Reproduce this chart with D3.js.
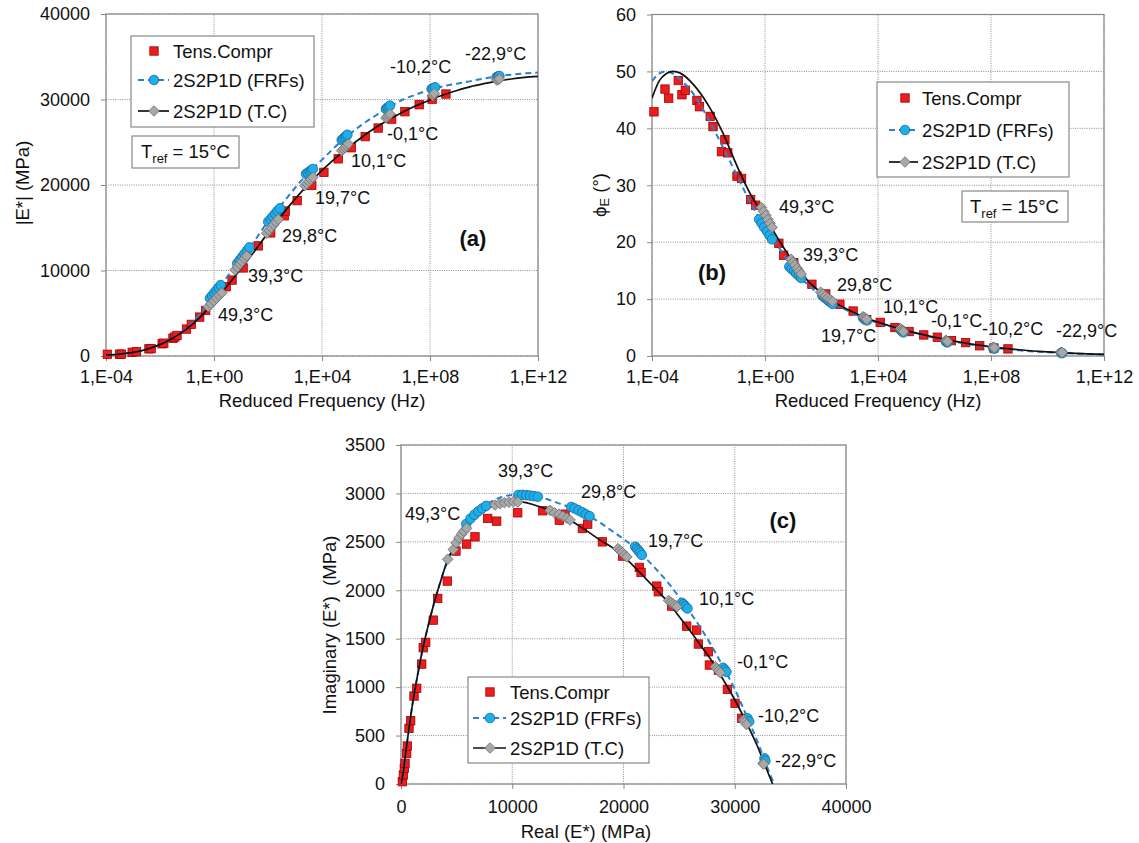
<!DOCTYPE html>
<html><head><meta charset="utf-8">
<script src="https://cdn.jsdelivr.net/npm/d3@7"></script>
<style>
body{margin:0;background:#fff;}
text{font-family:"Liberation Sans",Arial,Helvetica,sans-serif;fill:#111;}
</style></head><body>
<svg id="chart" width="1139" height="843"></svg>
<script>
// ---------------- DATA ----------------
const freqTicks = [1e-4, 1, 1e4, 1e8, 1e12];
const modulusTicks = [0, 10000, 20000, 30000, 40000];
const phaseTicks = [0, 10, 20, 30, 40, 50, 60];
const imagTicks = [0, 500, 1000, 1500, 2000, 2500, 3000, 3500];
const realTicks = [0, 10000, 20000, 30000, 40000];
const temps = ["49,3°C", "39,3°C", "29,8°C", "19,7°C", "10,1°C", "-0,1°C", "-10,2°C", "-22,9°C"];
const seriesNames = ["Tens.Compr", "2S2P1D (FRFs)", "2S2P1D (T.C)"];
const panelNames = ["(a)", "(b)", "(c)"];

// Panel (a): [log10 f, |E*| MPa]
const aTensCompr = [[-3.95,200],[-3.5,210],[-3.43,220],[-3.03,430],[-2.87,500],[-2.41,840],[-2.33,860],[-1.92,1430],[-1.86,1500],[-1.52,2080],[-1.45,2220],[-1.37,2400],[-1.02,3150],[-0.84,3700],[-0.53,4550],[-0.31,5330],[0.45,8100],[0.67,8880],[1.08,10300],[1.64,12880],[2.1,14400],[2.6,16400],[2.64,16950],[3.08,18170],[3.62,19950],[4.07,21480],[4.6,23060],[5.08,24360],[5.6,25660],[6.08,26660],[6.58,27710],[7.07,28570],[7.6,29390],[8.08,30040],[8.59,30640]];
const aTCCurve = [[-4,130],[-3.5,230],[-3,420],[-2.5,780],[-2,1330],[-1.5,2130],[-1,3200],[-0.5,4580],[0,6300],[0.5,8250],[1,10200],[1.5,12250],[2,14400],[2.5,16450],[3,18350],[3.5,20100],[4,21700],[4.5,23150],[5,24450],[5.5,25650],[6,26750],[6.5,27700],[7,28550],[7.5,29300],[8,29950],[8.5,30550],[9,31050],[9.5,31500],[10,31850],[10.5,32150],[11,32400],[11.5,32580],[12,32700]];
const aFRFCurve = [[-4,130],[-3.5,230],[-3,420],[-2.5,780],[-2,1340],[-1.5,2170],[-1,3300],[-0.5,5000],[0,7250],[0.5,9300],[1,11300],[1.5,13450],[2,15750],[2.5,17700],[3,19650],[3.5,21400],[4,22950],[4.5,24500],[5,25900],[5.5,27100],[6,28150],[6.5,29150],[7,30000],[7.5,30600],[8,31150],[8.5,31550],[9,31850],[9.5,32150],[10,32450],[10.5,32700],[11,32900],[11.5,33050],[12,33150]];
const aTCPoints = [[-0.21,5770],[-0.11,6100],[0.0,6450],[0.09,6780],[0.19,7100],[0.29,7400],
  [0.78,10060],[0.87,10400],[0.96,10750],[1.04,11050],[1.13,11400],[1.21,11700],
  [1.95,14350],[2.04,14700],[2.12,15020],[2.21,15350],[2.29,15670],[2.38,15990],
  [3.37,19920],[3.44,20170],[3.51,20420],[3.59,20650],[3.66,20900],
  [4.73,24010],[4.79,24210],[4.85,24400],[4.91,24600],[4.97,24800],
  [6.37,27840],[6.42,27990],[6.47,28150],[6.52,28300],
  [8.1,30440],[8.13,30580],[8.16,30720],
  [10.47,32280],[10.52,32340],[10.57,32400]];
const aFRFPoints = [[-0.15,6750],[-0.07,7060],[0.01,7370],[0.09,7680],[0.17,7990],[0.25,8300],
  [0.86,10840],[0.95,11210],[1.04,11580],[1.13,11950],[1.22,12330],[1.31,12700],
  [2.01,15700],[2.1,16010],[2.18,16330],[2.27,16640],[2.35,16960],[2.44,17270],
  [3.41,21290],[3.47,21430],[3.54,21580],[3.6,21720],[3.66,21870],
  [4.73,25260],[4.78,25420],[4.84,25570],[4.89,25730],[4.94,25880],
  [6.37,28890],[6.42,29020],[6.47,29150],[6.52,29280],
  [8.06,31230],[8.12,31330],[8.19,31430],
  [10.47,32630],[10.52,32690],[10.57,32750]];

// Panel (b): [log10 f, phase angle deg]
const bTensCompr = [[-3.93,42.9],[-3.54,46.9],[-3.41,45.3],[-3.07,48.4],[-2.94,45.9],[-2.82,46.7],[-2.41,44.9],[-2.32,43.8],[-1.94,42.1],[-1.84,40.3],[-1.42,38.0],[-1.54,35.9],[-1.32,35.7],[-0.99,31.6],[-0.83,31.2],[-0.51,27.5],[-0.33,26.5],[0.49,19.8],[0.66,17.7],[1.02,16.4],[1.66,12.6],[2.15,10.9],[2.65,9.1],[3.12,7.9],[3.6,6.4],[4.08,5.9],[4.6,5.0],[5.1,4.3],[5.62,3.7],[6.1,3.3],[6.6,2.7],[7.1,2.35],[7.6,1.8],[8.1,1.4],[8.6,1.25]];
const bTCCurve = [[-4,45.3],[-3.75,48.3],[-3.5,49.6],[-3.25,50.0],[-3,49.7],[-2.5,47.5],[-2,44.0],[-1.5,39.3],[-1,33.5],[-0.5,28.3],[0,24.4],[0.5,20.3],[1,16.5],[1.5,13.3],[2,11.1],[2.5,9.3],[3,8.0],[3.5,6.85],[4,5.95],[4.5,5.15],[5,4.45],[5.5,3.85],[6,3.3],[6.5,2.8],[7,2.35],[7.5,1.95],[8,1.6],[9,1.1],[10,0.72],[11,0.45],[12,0.3]];
const bFRFCurve = [[-4,48.3],[-3.75,49.6],[-3.5,50.0],[-3.25,49.6],[-3,48.6],[-2.5,45.8],[-2,41.6],[-1.5,36.8],[-1,31.8],[-0.5,26.8],[0,22.6],[0.5,19.0],[1,15.3],[1.5,12.6],[2,10.6],[2.5,9.0],[3,7.8],[3.5,6.7],[4,5.8],[4.5,5.05],[5,4.35],[5.5,3.75],[6,3.2],[6.5,2.7],[7,2.25],[7.5,1.85],[8,1.5],[9,1.0],[10,0.65],[11,0.42],[12,0.28]];
const bTCPoints = [[-0.13,26.1],[-0.05,25.4],[0.03,24.7],[0.1,24.0],[0.18,23.3],[0.25,22.6],
  [0.92,17.0],[0.99,16.5],[1.06,16.0],[1.14,15.4],[1.21,14.9],[1.28,14.4],
  [1.97,11.2],[2.05,10.9],[2.14,10.5],[2.22,10.2],[2.31,9.9],[2.39,9.6],
  [3.47,6.9],[3.51,6.75],[3.56,6.6],[3.6,6.45],
  [4.8,4.8],[4.83,4.6],[4.87,4.45],[4.9,4.3],
  [6.4,2.75],[6.43,2.65],[6.46,2.55],
  [8.08,1.55],[8.12,1.45],
  [10.48,0.65],[10.52,0.6]];
const bFRFPoints = [[-0.21,24.0],[-0.12,23.3],[-0.03,22.6],[0.07,21.9],[0.16,21.2],[0.25,20.5],
  [0.86,15.7],[0.94,15.3],[1.03,14.9],[1.11,14.5],[1.2,14.1],[1.28,13.7],
  [2.03,10.6],[2.1,10.3],[2.18,10.0],[2.25,9.7],[2.32,9.45],[2.39,9.15],
  [3.47,6.7],[3.51,6.55],[3.56,6.4],[3.6,6.25],
  [4.8,4.6],[4.83,4.45],[4.87,4.3],[4.9,4.15],
  [6.4,2.55],[6.43,2.45],[6.46,2.4],
  [8.08,1.4],[8.12,1.3],
  [10.48,0.55],[10.52,0.5]];

// Panel (c): [Real E* MPa, Imag E* MPa]
const cTensCompr = [[120,24],[210,93],[300,162],[360,213],[510,317],[570,392],[720,575],[870,653],[1170,908],[1410,988],[1860,1238],[2000,1407],[2220,1462],[2900,1692],[3300,1916],[4160,2095],[4940,2405],[5900,2477],[6650,2552],[7790,2742],[8600,2714],[10490,2800],[12740,2821],[14230,2724],[14740,2786],[16300,2638],[16780,2683],[18100,2500],[19930,2353],[21420,2236],[21580,2184],[22990,2043],[23130,1985],[24340,1837],[25680,1630],[26580,1589],[26730,1445],[27630,1365],[27720,1228],[28530,1176],[29340,977],[30030,833],[30630,678]];
const cTCCurve = [[0,0],[200,120],[400,300],[700,560],[1000,800],[1500,1130],[2000,1420],[2500,1660],[3000,1880],[3500,2070],[4000,2250],[4500,2390],[5000,2510],[5500,2610],[6000,2690],[7000,2790],[8000,2860],[9000,2900],[10000,2915],[11000,2910],[12000,2880],[13000,2840],[14000,2795],[15000,2735],[16000,2665],[17000,2590],[18000,2510],[19000,2440],[20000,2350],[21000,2240],[22000,2120],[23000,2000],[24000,1880],[25000,1730],[26000,1580],[27000,1420],[28000,1260],[29000,1070],[30000,870],[31000,645],[32000,400],[32800,170],[33400,0]];
const cFRFCurve = [[0,0],[200,120],[400,300],[700,560],[1000,800],[1500,1130],[2000,1420],[2500,1660],[3000,1880],[3500,2070],[4000,2250],[4500,2400],[5000,2530],[5500,2640],[6000,2720],[7000,2830],[8000,2910],[9000,2960],[10000,2985],[11000,2990],[12000,2975],[13000,2945],[14000,2905],[15000,2865],[16000,2815],[17000,2760],[18000,2690],[19000,2610],[20000,2530],[21000,2440],[22000,2330],[23000,2210],[24000,2080],[25000,1930],[26000,1770],[27000,1600],[28000,1410],[29000,1200],[30000,980],[31000,720],[32000,450],[33000,150],[33550,0]];
const cTCPoints = [[4200,2320],[4700,2420],[4950,2490],[5200,2540],[5450,2580],[5650,2610],[5900,2640],
  [8450,2880],[8900,2895],[9300,2905],[9700,2910],[10100,2915],[10500,2912],
  [13400,2825],[13800,2800],[14200,2785],[14550,2765],[14900,2745],[15200,2725],
  [19500,2430],[19700,2410],[19900,2390],[20100,2365],[20300,2345],
  [24050,1895],[24250,1875],[24450,1860],[24650,1845],[24800,1830],
  [28250,1210],[28400,1190],[28550,1170],[28700,1150],
  [30800,660],[30900,640],[31050,615],
  [32550,215],[32600,205]];
const cFRFPoints = [[5870,2685],[6250,2740],[6600,2780],[6950,2815],[7300,2845],[7650,2871],
  [10550,2984],[10900,2985],[11250,2982],[11600,2978],[11950,2972],[12300,2966],
  [15300,2860],[15600,2845],[15950,2825],[16300,2805],[16600,2785],[16950,2765],
  [21050,2450],[21200,2430],[21350,2410],[21500,2390],[21650,2365],
  [25250,1870],[25400,1855],[25550,1835],[25750,1812],
  [28950,1200],[29100,1180],[29250,1158],
  [31150,678],[31300,645],
  [32670,265],[32750,240]];

// ---------------- LAYOUT / STYLE ----------------
const FONT = '"Liberation Sans", Arial, Helvetica, sans-serif';
const RED = "#ee1d1d", RED_S = "#a30000";
const BLUE = "#1eaee8", BLUE_S = "#1668a0", BLUE_L = "#2b7fcf";
const GRAY = "#a8a8a8", GRAY_S = "#6e6e6e";
const svg = d3.select("#chart");

function logFmt(d) {
  const e = Math.round(Math.log10(d));
  return "1,E" + (e < 0 ? "-" : "+") + String(Math.abs(e)).padStart(2, "0");
}

function drawSquare(g, x, y) {
  g.append("rect").attr("x", x - 4.2).attr("y", y - 4.2).attr("width", 8.4).attr("height", 8.4)
    .attr("fill", RED).attr("stroke", RED_S).attr("stroke-width", 0.8);
}
function drawCircle(g, x, y) {
  g.append("circle").attr("cx", x).attr("cy", y).attr("r", 4.8)
    .attr("fill", BLUE).attr("stroke", BLUE_S).attr("stroke-width", 0.8);
}
function drawDiamond(g, x, y) {
  g.append("path").attr("d", d3.symbol().type(d3.symbolSquare).size(56)())
    .attr("transform", `translate(${x},${y}) rotate(45)`)
    .attr("fill", GRAY).attr("stroke", GRAY_S).attr("stroke-width", 0.8);
}

function drawPanel(p) {
  const g = svg.append("g");
  const [x0, x1] = p.x.range();
  const [y0, y1] = p.y.range();
  const id = "clip" + p.key;
  svg.append("clipPath").attr("id", id).append("rect")
    .attr("x", x0).attr("y", y1 - 6).attr("width", x1 - x0 + 6).attr("height", y0 - y1 + 6);

  // grid
  g.selectAll(null).data(p.xTicks).join("line")
    .attr("x1", d => p.x(d)).attr("x2", d => p.x(d)).attr("y1", y0).attr("y2", y1)
    .attr("stroke", "#8f8f8f").attr("stroke-width", 1).attr("stroke-dasharray", "1,1.3");
  g.selectAll(null).data(p.yTicks).join("line")
    .attr("y1", d => p.y(d)).attr("y2", d => p.y(d)).attr("x1", x0).attr("x2", x1)
    .attr("stroke", "#8f8f8f").attr("stroke-width", 1).attr("stroke-dasharray", "1,1.3");

  // axes
  const ax = g.append("g").attr("transform", `translate(0,${y0})`)
    .call(d3.axisBottom(p.x).tickValues(p.xTicks).tickFormat(p.xFmt).tickSize(5).tickPadding(p.xPad));
  const ay = g.append("g").attr("transform", `translate(${x0},0)`)
    .call(d3.axisLeft(p.y).tickValues(p.yTicks).tickFormat(d3.format("d")).tickSize(5).tickPadding(11));
  [ax, ay].forEach(a => {
    a.select(".domain").remove();
    a.selectAll("line").attr("stroke", "#888");
    a.selectAll("text").attr("font-size", 18).attr("font-family", FONT).attr("fill", "#111");
  });

  // border
  g.append("rect").attr("x", x0).attr("y", y1).attr("width", x1 - x0).attr("height", y0 - y1)
    .attr("fill", "none").attr("stroke", "#888").attr("stroke-width", 1.2);

  const px = p.px, py = p.py;
  const line = d3.line().x(px).y(py).curve(d3.curveMonotoneX);
  const sq = g.append("g");
  p.tens.forEach(d => drawSquare(sq, px(d), py(d)));
  const clipLines = g.append("g").attr("clip-path", `url(#${id})`);
  clipLines.append("path").datum(p.frfCurve).attr("d", line).attr("fill", "none")
    .attr("stroke", BLUE_L).attr("stroke-width", 2).attr("stroke-dasharray", "6,4");
  clipLines.append("path").datum(p.tcCurve).attr("d", line).attr("fill", "none")
    .attr("stroke", "#111").attr("stroke-width", 1.7);
  const mk = g.append("g");
  p.frfPts.forEach(d => drawCircle(mk, px(d), py(d)));
  p.tcPts.forEach(d => drawDiamond(mk, px(d), py(d)));

  // temperature labels
  temps.forEach((t, i) => {
    g.append("text").attr("x", p.tempPos[i][0]).attr("y", p.tempPos[i][1])
      .attr("font-size", 18).text(t);
  });

  // panel label
  g.append("text").attr("x", p.labelPos[0]).attr("y", p.labelPos[1]).attr("text-anchor", "middle")
    .attr("font-size", 22).attr("font-weight", "bold").text(p.label);

  // axis titles
  g.append("text").attr("x", p.xTitlePos[0]).attr("y", p.xTitlePos[1]).attr("text-anchor", "middle")
    .attr("font-size", 18.5).text(p.xTitle);
  const yt = g.append("text").attr("transform", `translate(${p.yTitlePos[0]},${p.yTitlePos[1]}) rotate(-90)`)
    .attr("text-anchor", "middle").attr("dominant-baseline", "central")
    .attr("font-size", 18.5).style("white-space", "pre");
  p.yTitle(yt);

  // legend
  const L = p.legend;
  const lg = g.append("g");
  lg.append("rect").attr("x", L.box[0]).attr("y", L.box[1]).attr("width", L.box[2] - L.box[0])
    .attr("height", L.box[3] - L.box[1]).attr("fill", "#fff").attr("stroke", "#888").attr("stroke-width", 1.2);
  drawSquare(lg, L.mark, L.rows[0]);
  lg.append("line").attr("x1", L.line[0]).attr("x2", L.line[1]).attr("y1", L.rows[1]).attr("y2", L.rows[1])
    .attr("stroke", BLUE_L).attr("stroke-width", 2).attr("stroke-dasharray", "6,4");
  drawCircle(lg, L.mark, L.rows[1]);
  lg.append("line").attr("x1", L.line[0]).attr("x2", L.line[1]).attr("y1", L.rows[2]).attr("y2", L.rows[2])
    .attr("stroke", "#111").attr("stroke-width", 1.7);
  drawDiamond(lg, L.mark, L.rows[2]);
  seriesNames.forEach((s, i) => {
    lg.append("text").attr("x", L.text).attr("y", L.rows[i]).attr("dominant-baseline", "central")
      .attr("font-size", 18.5).text(s);
  });

  // Tref box
  if (p.tref) {
    const T = p.tref;
    g.append("rect").attr("x", T.box[0]).attr("y", T.box[1]).attr("width", T.box[2] - T.box[0])
      .attr("height", T.box[3] - T.box[1]).attr("fill", "#fff").attr("stroke", "#888").attr("stroke-width", 1.2);
    const tt = g.append("text").attr("x", T.text[0]).attr("y", T.text[1]).attr("font-size", 18.5);
    tt.append("tspan").text("T");
    tt.append("tspan").attr("font-size", 13).attr("dy", 5).text("ref");
    tt.append("tspan").attr("dy", -5).text(" = 15°C");
  }
}

// Panel (a)
const xa = d3.scaleLog().domain([1e-4, 1e12]).range([106, 538]);
const ya = d3.scaleLinear().domain([0, 40000]).range([356, 14]);
drawPanel({
  key: "a", x: xa, y: ya, xTicks: freqTicks, yTicks: modulusTicks, xFmt: logFmt, xPad: 9,
  px: d => xa(Math.pow(10, d[0])), py: d => ya(d[1]),
  tens: aTensCompr, tcCurve: aTCCurve, frfCurve: aFRFCurve, tcPts: aTCPoints, frfPts: aFRFPoints,
  tempPos: [[218,321],[248,282],[282,242],[315,204],[351,167],[387,140],[390,73],[465,60]],
  label: panelNames[0], labelPos: [473, 246],
  xTitle: "Reduced Frequency (Hz)", xTitlePos: [322, 407],
  yTitlePos: [22, 183], yTitle: t => t.text("|E*| (MPa)"),
  legend: { box: [131, 36, 314, 127], rows: [51, 80, 111], line: [138, 169], mark: 154, text: 173 },
  tref: { box: [132, 136, 239, 168], text: [141, 158] }
});

// Panel (b)
const xb = d3.scaleLog().domain([1e-4, 1e12]).range([652, 1104]);
const yb = d3.scaleLinear().domain([0, 60]).range([356, 14.5]);
drawPanel({
  key: "b", x: xb, y: yb, xTicks: freqTicks, yTicks: phaseTicks, xFmt: logFmt, xPad: 9,
  px: d => xb(Math.pow(10, d[0])), py: d => yb(d[1]),
  tens: bTensCompr, tcCurve: bTCCurve, frfCurve: bFRFCurve, tcPts: bTCPoints, frfPts: bFRFPoints,
  tempPos: [[779,213],[803,261],[837,291],[821,342],[883,313],[931,327],[982,335],[1056,337]],
  label: panelNames[1], labelPos: [712, 280],
  xTitle: "Reduced Frequency (Hz)", xTitlePos: [878, 407],
  yTitlePos: [599, 195], yTitle: t => {
    t.append("tspan").text("ϕ");
    t.append("tspan").attr("font-size", 13).attr("dy", 5).text("E");
    t.append("tspan").attr("dy", -5).text(" (°)");
  },
  legend: { box: [877, 82, 1069, 177], rows: [98, 130, 162], line: [889, 918], mark: 905, text: 922 },
  tref: { box: [962, 191, 1068, 222], text: [970, 213] }
});

// Panel (c)
const xc = d3.scaleLinear().domain([0, 40000]).range([401, 846]);
const yc = d3.scaleLinear().domain([0, 3500]).range([784, 445]);
drawPanel({
  key: "c", x: xc, y: yc, xTicks: realTicks, yTicks: imagTicks, xFmt: d3.format("d"), xPad: 11,
  px: d => xc(d[0]), py: d => yc(d[1]),
  tens: cTensCompr, tcCurve: cTCCurve, frfCurve: cFRFCurve, tcPts: cTCPoints, frfPts: cFRFPoints,
  tempPos: [[405,520],[498,477],[581,498],[648,547],[699,605],[737,668],[758,722],[775,767]],
  label: panelNames[2], labelPos: [783, 528],
  xTitle: "Real (E*) (MPa)", xTitlePos: [586, 838],
  yTitlePos: [329, 625], yTitle: t => t.text("Imaginary (E*)  (MPa)"),
  legend: { box: [468, 677, 649, 763], rows: [692, 718, 748], line: [473, 506], mark: 490, text: 510 },
  tref: null
});
</script>
</body></html>
